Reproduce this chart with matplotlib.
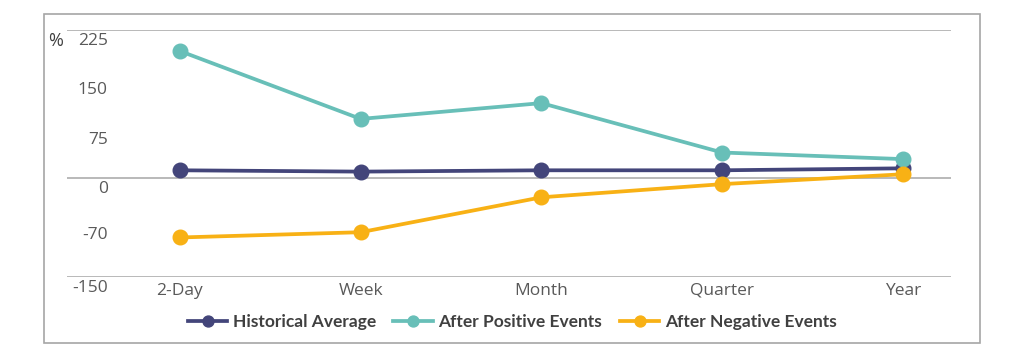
import matplotlib
matplotlib.use("Agg")
import matplotlib.pyplot as plt
from matplotlib.patches import Rectangle
from matplotlib.transforms import blended_transform_factory, offset_copy

categories = ["2-Day", "Week", "Month", "Quarter", "Year"]
historical = [12, 10, 12, 12, 15]
positive = [193, 90, 114, 39, 29]
negative = [-90, -82, -29, -9, 6]
ytick_vals = [225, 150, 75, 0, -70, -150]
ytick_labels = ["225", "150", "75", "0", "-70", "-150"]
grid_vals = [225, 0, -150]

plt.rcParams['font.family'] = ['Open Sans', 'DejaVu Sans']

fig = plt.figure(figsize=(10.24, 3.51), dpi=100)
W, H = 1024, 351
ax = fig.add_axes([67 / W, (H - 277) / H, (951 - 67) / W, (277 - 30) / H])

# outer frame
fig.patches.append(Rectangle((44 / W, (H - 343) / H), (980 - 44) / W, (343 - 14) / H,
                             transform=fig.transFigure, fill=False,
                             edgecolor="#a6a6a6", linewidth=1.2))

colors = {"hist": "#43457A", "pos": "#68BFB8", "neg": "#F8B115"}
x = list(range(len(categories)))
ax.plot(x, historical, color=colors["hist"], lw=2.7, marker="o", ms=10.5,
        label="Historical Average", zorder=3)
ax.plot(x, positive, color=colors["pos"], lw=2.7, marker="o", ms=10.5,
        label="After Positive Events", zorder=4)
ax.plot(x, negative, color=colors["neg"], lw=2.7, marker="o", ms=10.5,
        label="After Negative Events", zorder=5)

for g in grid_vals:
    ax.axhline(g, color="#b3b3b3", lw=1.3, zorder=1)

ax.set_xlim(-0.625, 4.266)
ax.set_ylim(-150, 225)
for s in ax.spines.values():
    s.set_visible(False)
ax.set_xticks([])
ax.set_yticks([])

trans = blended_transform_factory(ax.transAxes, ax.transData)
trans_off = offset_copy(trans, fig=fig, x=0, y=-11, units="dots")
for v, lab in zip(ytick_vals, ytick_labels):
    ax.text(0.046, v, lab, transform=trans_off, ha="right", va="center",
            fontsize=12.5, color="#595959")

ax.text(-19 / 884, 225, "%", transform=trans_off, ha="left", va="center",
        fontsize=13, color="#404040")

xtrans = blended_transform_factory(ax.transData, ax.transAxes)
for xi, c in zip(x, categories):
    ax.text(xi, -0.055, c, transform=xtrans, ha="center", va="center",
            fontsize=12.5, color="#595959")

leg = fig.legend(loc="center", bbox_to_anchor=(512 / W, (H - 322) / H), ncol=3,
                 frameon=False, handlelength=2.3, columnspacing=1.0,
                 handletextpad=0.3, markerscale=0.75,
                 prop={"family": "Lato", "weight": "bold", "size": 12.5})
for t in leg.get_texts():
    t.set_color("#404040")

fig.savefig("out.png", dpi=100)
